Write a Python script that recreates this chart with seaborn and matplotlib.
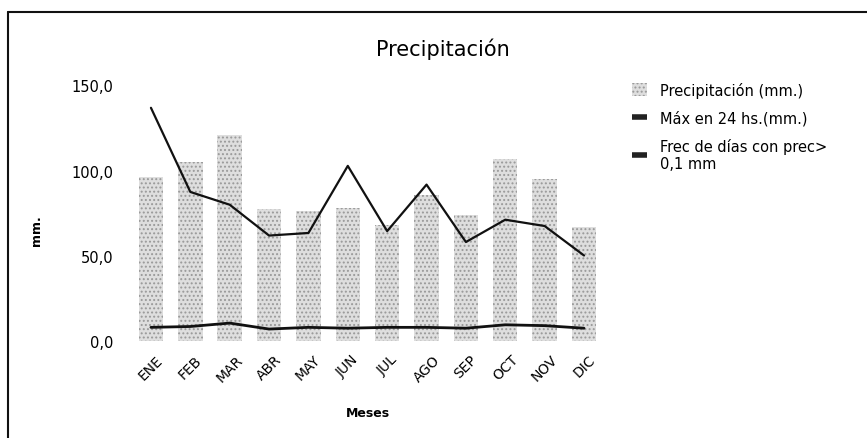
import matplotlib
matplotlib.use("Agg")
import numpy as np
import pandas as pd
import seaborn as sns
from matplotlib import pyplot as plt
from matplotlib.lines import Line2D
from matplotlib.patches import Patch

months = ["ENE", "FEB", "MAR", "ABR", "MAY", "JUN", "JUL", "AGO", "SEP", "OCT", "NOV", "DIC"]
precip = [96.3, 105.1, 120.8, 77.2, 76.1, 78.1, 67.8, 85.5, 73.7, 107.1, 95.3, 66.9]
max_24h = [136.9, 87.5, 80.0, 61.9, 63.4, 102.8, 64.5, 91.8, 58.1, 71.2, 67.5, 50.2]
frec_dias = [8.0, 8.5, 10.5, 7.0, 8.0, 7.5, 8.0, 8.0, 7.5, 9.5, 9.0, 7.5]
yticks = [0, 50, 100, 150]
ytick_labels = ["0,0", "50,0", "100,0", "150,0"]

df = pd.DataFrame({"Mes": months, "Precipitacion": precip,
                   "Max24": max_24h, "Frec": frec_dias})
df["pos"] = np.arange(len(df))

sns.set_style("white")
plt.rcParams["font.family"] = ["DejaVu Sans"]
plt.rcParams["text.color"] = "black"
plt.rcParams["xtick.color"] = "black"
plt.rcParams["ytick.color"] = "black"
plt.rcParams["axes.labelcolor"] = "black"
plt.rcParams["hatch.linewidth"] = 0.9

fig = plt.figure(figsize=(8.67, 4.39), dpi=100)
ax = fig.add_axes([0.1514, 0.221, 0.5449, 0.582])

bar_face = "#dedede"
bar_hatch = "#999999"
sns.barplot(data=df, x="Mes", y="Precipitacion", ax=ax, color=bar_face,
            saturation=1, width=0.62, hatch="....", edgecolor=bar_hatch,
            linewidth=0)

# lines go through the bar centres
ax.plot(df["pos"], df["Max24"], color="#111111", linewidth=1.6)
ax.plot(df["pos"], df["Frec"], color="#111111", linewidth=2.0)

ax.set_xlim(-0.5, 11.5)
ax.set_ylim(0, 150)
ax.set_yticks(yticks)
ax.set_yticklabels(ytick_labels, fontsize=10.5)
ax.set_xticks(df["pos"])
ax.set_xticklabels(months, rotation=45, fontsize=10)
ax.tick_params(axis="y", length=0, pad=13)
ax.tick_params(axis="x", length=0, pad=8)
sns.despine(ax=ax, left=True, bottom=True)

ax.set_xlabel("Meses", fontsize=9, fontweight="bold", labelpad=16)
ax.set_ylabel("mm.", fontsize=9, fontweight="bold")
ax.yaxis.set_label_coords(-0.187, 0.434)

fig.text(0.511, 0.888, "Precipitación", fontsize=15, ha="center", va="center")

handles = [
    Patch(facecolor=bar_face, hatch="....", edgecolor=bar_hatch, linewidth=0),
    Line2D([0], [0], color="#222222", linewidth=4.0, solid_capstyle="butt"),
    Line2D([0], [0], color="#222222", linewidth=4.0, solid_capstyle="butt"),
]
labels = ["Precipitación (mm.)", "Máx en 24 hs.(mm.)", "Frec de días con prec>\n0,1 mm"]
fig.legend(handles, labels, loc="upper left", bbox_to_anchor=(0.729, 0.812),
           frameon=False, fontsize=10.5, handlelength=1.0, handleheight=1.0,
           handletextpad=0.9, labelspacing=0.85, borderpad=0, borderaxespad=0)

# scanned page frame (left and top edges)
fig.add_artist(Line2D([8 / 867, 8 / 867], [0, 1 - 13 / 439],
                      transform=fig.transFigure, color="#111111", linewidth=1.5))
fig.add_artist(Line2D([8 / 867, 1], [1 - 13 / 439, 1 - 13 / 439],
                      transform=fig.transFigure, color="#111111", linewidth=1.5))

fig.savefig("out.png", dpi=100)
